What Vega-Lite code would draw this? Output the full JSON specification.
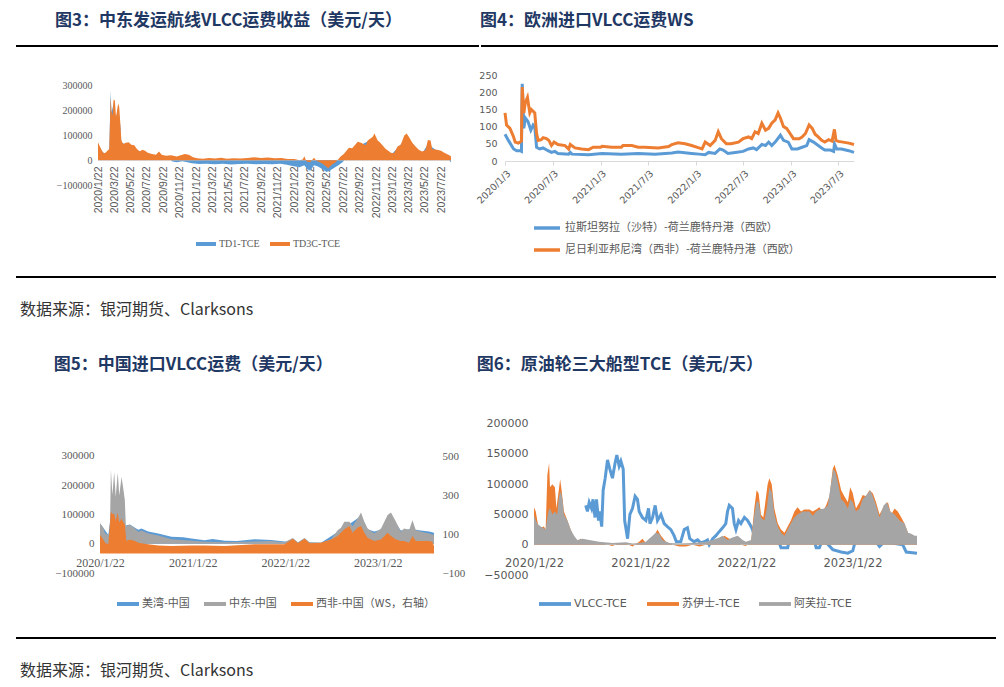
{
"$schema": "https://vega.github.io/schema/vega-lite/v6.json",
"background": "white",
"padding": {"left": 15, "top": 12, "right": 5, "bottom": 5},
"spacing": 0,
"resolve": {"scale": {"color": "independent"}, "legend": {"color": "independent"}},
"config": {
  "view": {"stroke": null},
  "axis": {"grid": false, "labelColor": "#595959", "domain": false, "ticks": false, "title": null, "labelFlush": false, "labelOverlap": false, "tickCount": 60},
  "legend": {"labelColor": "#595959", "title": null, "labelLimit": 400},
  "title": {"color": "#1f3864", "font": "Noto Sans CJK SC", "fontWeight": "bold", "fontSize": 17, "anchor": "start"}
},
"datasets": {
"td1": [{"d":"2020-01-22","v":65000},{"d":"2020-02-05","v":35000},{"d":"2020-02-19","v":25000},{"d":"2020-03-04","v":40000},{"d":"2020-03-09","v":280000},{"d":"2020-03-12","v":190000},{"d":"2020-03-20","v":230000},{"d":"2020-03-29","v":160000},{"d":"2020-04-06","v":215000},{"d":"2020-04-14","v":140000},{"d":"2020-04-18","v":70000},{"d":"2020-05-15","v":60000},{"d":"2020-06-15","v":40000},{"d":"2020-07-15","v":30000},{"d":"2020-08-15","v":20000},{"d":"2020-09-15","v":15000},{"d":"2020-10-10","v":5000},{"d":"2020-10-25","v":-5000},{"d":"2020-11-10","v":-8000},{"d":"2020-12-01","v":-4000},{"d":"2020-12-20","v":-8000},{"d":"2021-01-05","v":-12000},{"d":"2021-02-01","v":-15000},{"d":"2021-03-01","v":-14000},{"d":"2021-04-01","v":-16000},{"d":"2021-05-01","v":-14000},{"d":"2021-06-01","v":-17000},{"d":"2021-07-01","v":-15000},{"d":"2021-08-01","v":-14000},{"d":"2021-09-01","v":-16000},{"d":"2021-10-01","v":-15000},{"d":"2021-11-01","v":-16000},{"d":"2021-12-01","v":-14000},{"d":"2021-12-25","v":-18000},{"d":"2022-01-10","v":-22000},{"d":"2022-01-25","v":-25000},{"d":"2022-02-10","v":-28000},{"d":"2022-02-28","v":-20000},{"d":"2022-03-10","v":-35000},{"d":"2022-03-22","v":-42000},{"d":"2022-04-05","v":-20000},{"d":"2022-04-20","v":-25000},{"d":"2022-05-05","v":-35000},{"d":"2022-05-22","v":-48000},{"d":"2022-06-05","v":-40000},{"d":"2022-06-20","v":-30000},{"d":"2022-07-05","v":-20000},{"d":"2022-07-20","v":-8000},{"d":"2022-08-01","v":5000},{"d":"2022-09-15","v":55000},{"d":"2022-11-16","v":90000},{"d":"2023-01-16","v":20000},{"d":"2023-03-16","v":90000},{"d":"2023-05-12","v":25000},{"d":"2023-06-03","v":65000},{"d":"2023-07-22","v":25000},{"d":"2023-08-15","v":5000},{"d":"2023-08-28","v":-8000}],
"td3c": [{"d":"2020-01-22","v":72000},{"d":"2020-01-29","v":55000},{"d":"2020-02-05","v":40000},{"d":"2020-02-12","v":28000},{"d":"2020-02-19","v":30000},{"d":"2020-02-26","v":38000},{"d":"2020-03-04","v":45000},{"d":"2020-03-09","v":255000},{"d":"2020-03-12","v":200000},{"d":"2020-03-16","v":180000},{"d":"2020-03-20","v":245000},{"d":"2020-03-25","v":240000},{"d":"2020-03-29","v":175000},{"d":"2020-04-02","v":200000},{"d":"2020-04-06","v":230000},{"d":"2020-04-10","v":215000},{"d":"2020-04-14","v":150000},{"d":"2020-04-18","v":80000},{"d":"2020-04-25","v":65000},{"d":"2020-05-05","v":70000},{"d":"2020-05-15","v":72000},{"d":"2020-05-25","v":62000},{"d":"2020-06-05","v":60000},{"d":"2020-06-15","v":45000},{"d":"2020-06-25","v":35000},{"d":"2020-07-05","v":42000},{"d":"2020-07-15","v":38000},{"d":"2020-07-25","v":30000},{"d":"2020-08-10","v":25000},{"d":"2020-08-25","v":22000},{"d":"2020-09-05","v":35000},{"d":"2020-09-15","v":22000},{"d":"2020-10-01","v":18000},{"d":"2020-10-20","v":20000},{"d":"2020-11-10","v":15000},{"d":"2020-11-25","v":20000},{"d":"2020-12-10","v":25000},{"d":"2020-12-25","v":22000},{"d":"2021-01-10","v":12000},{"d":"2021-01-25","v":8000},{"d":"2021-02-15","v":6000},{"d":"2021-03-10","v":9000},{"d":"2021-04-01","v":7000},{"d":"2021-04-25","v":10000},{"d":"2021-05-15","v":6000},{"d":"2021-06-10","v":8000},{"d":"2021-07-05","v":7000},{"d":"2021-08-01","v":9000},{"d":"2021-08-25","v":12000},{"d":"2021-09-20","v":9000},{"d":"2021-10-15","v":11000},{"d":"2021-11-10","v":8000},{"d":"2021-12-05","v":9000},{"d":"2021-12-28","v":5000},{"d":"2022-01-22","v":5000},{"d":"2022-02-10","v":0},{"d":"2022-02-22","v":3000},{"d":"2022-02-28","v":16000},{"d":"2022-03-08","v":-5000},{"d":"2022-03-22","v":-8000},{"d":"2022-04-05","v":10000},{"d":"2022-04-15","v":-3000},{"d":"2022-05-01","v":-10000},{"d":"2022-05-15","v":-20000},{"d":"2022-05-28","v":-32000},{"d":"2022-06-10","v":-18000},{"d":"2022-06-25","v":-8000},{"d":"2022-07-13","v":15000},{"d":"2022-07-25","v":25000},{"d":"2022-08-13","v":50000},{"d":"2022-08-25","v":48000},{"d":"2022-09-15","v":75000},{"d":"2022-09-27","v":70000},{"d":"2022-10-15","v":60000},{"d":"2022-10-22","v":80000},{"d":"2022-11-10","v":95000},{"d":"2022-11-16","v":108000},{"d":"2022-11-28","v":80000},{"d":"2022-12-04","v":75000},{"d":"2022-12-16","v":60000},{"d":"2022-12-28","v":45000},{"d":"2023-01-04","v":40000},{"d":"2023-01-16","v":30000},{"d":"2023-01-28","v":28000},{"d":"2023-02-10","v":55000},{"d":"2023-02-22","v":62000},{"d":"2023-03-07","v":100000},{"d":"2023-03-16","v":108000},{"d":"2023-03-24","v":95000},{"d":"2023-04-06","v":70000},{"d":"2023-04-18","v":55000},{"d":"2023-04-30","v":42000},{"d":"2023-05-12","v":35000},{"d":"2023-05-25","v":40000},{"d":"2023-06-03","v":82000},{"d":"2023-06-13","v":80000},{"d":"2023-06-19","v":45000},{"d":"2023-07-07","v":42000},{"d":"2023-07-22","v":38000},{"d":"2023-08-03","v":30000},{"d":"2023-08-22","v":20000},{"d":"2023-08-28","v":15000}],
"rt": [{"d":"2020-01-03","v":78},{"d":"2020-01-16","v":60},{"d":"2020-02-05","v":35},{"d":"2020-02-17","v":30},{"d":"2020-03-01","v":30},{"d":"2020-03-06","v":28},{"d":"2020-03-09","v":225},{"d":"2020-03-15","v":95},{"d":"2020-03-21","v":125},{"d":"2020-03-31","v":115},{"d":"2020-04-11","v":90},{"d":"2020-04-20","v":105},{"d":"2020-04-26","v":100},{"d":"2020-05-03","v":40},{"d":"2020-05-15","v":35},{"d":"2020-05-28","v":38},{"d":"2020-06-16","v":30},{"d":"2020-06-29","v":25},{"d":"2020-07-12","v":28},{"d":"2020-07-24","v":22},{"d":"2020-09-03","v":20},{"d":"2020-09-09","v":25},{"d":"2020-09-15","v":20},{"d":"2020-11-18","v":18},{"d":"2021-01-09","v":22},{"d":"2021-03-24","v":20},{"d":"2021-05-27","v":22},{"d":"2021-07-31","v":20},{"d":"2021-10-03","v":23},{"d":"2021-10-27","v":26},{"d":"2021-12-18","v":22},{"d":"2022-01-15","v":20},{"d":"2022-02-08","v":18},{"d":"2022-02-21","v":25},{"d":"2022-03-18","v":22},{"d":"2022-04-05","v":35},{"d":"2022-04-18","v":32},{"d":"2022-05-06","v":22},{"d":"2022-06-03","v":25},{"d":"2022-07-03","v":28},{"d":"2022-07-24","v":35},{"d":"2022-08-11","v":38},{"d":"2022-08-24","v":33},{"d":"2022-09-13","v":48},{"d":"2022-09-27","v":45},{"d":"2022-10-09","v":55},{"d":"2022-10-21","v":45},{"d":"2022-11-03","v":55},{"d":"2022-11-23","v":75},{"d":"2022-12-05","v":60},{"d":"2022-12-23","v":55},{"d":"2023-01-06","v":35},{"d":"2023-01-27","v":35},{"d":"2023-02-14","v":40},{"d":"2023-03-04","v":45},{"d":"2023-03-13","v":62},{"d":"2023-03-30","v":55},{"d":"2023-04-17","v":45},{"d":"2023-04-30","v":38},{"d":"2023-05-12","v":32},{"d":"2023-06-03","v":32},{"d":"2023-06-15","v":28},{"d":"2023-06-18","v":50},{"d":"2023-06-27","v":35},{"d":"2023-07-15","v":35},{"d":"2023-08-12","v":30},{"d":"2023-09-01","v":25}],
"bn": [{"d":"2020-01-03","v":140},{"d":"2020-01-09","v":105},{"d":"2020-01-22","v":95},{"d":"2020-02-05","v":70},{"d":"2020-02-11","v":55},{"d":"2020-02-23","v":52},{"d":"2020-03-01","v":55},{"d":"2020-03-06","v":58},{"d":"2020-03-09","v":215},{"d":"2020-03-15","v":140},{"d":"2020-03-21","v":170},{"d":"2020-03-29","v":185},{"d":"2020-04-07","v":140},{"d":"2020-04-13","v":150},{"d":"2020-04-20","v":145},{"d":"2020-04-26","v":140},{"d":"2020-05-03","v":80},{"d":"2020-05-09","v":60},{"d":"2020-05-21","v":62},{"d":"2020-05-28","v":68},{"d":"2020-06-10","v":65},{"d":"2020-06-19","v":60},{"d":"2020-06-29","v":45},{"d":"2020-07-09","v":55},{"d":"2020-07-24","v":48},{"d":"2020-08-20","v":45},{"d":"2020-09-03","v":35},{"d":"2020-09-09","v":48},{"d":"2020-09-27","v":38},{"d":"2020-10-23","v":35},{"d":"2020-11-18","v":33},{"d":"2020-12-06","v":40},{"d":"2021-01-03","v":40},{"d":"2021-01-09","v":43},{"d":"2021-02-15","v":40},{"d":"2021-03-24","v":40},{"d":"2021-03-30","v":45},{"d":"2021-05-03","v":45},{"d":"2021-05-27","v":40},{"d":"2021-06-21","v":40},{"d":"2021-08-12","v":38},{"d":"2021-09-21","v":42},{"d":"2021-10-03","v":48},{"d":"2021-10-27","v":53},{"d":"2021-11-23","v":50},{"d":"2021-12-18","v":45},{"d":"2022-01-15","v":38},{"d":"2022-01-27","v":35},{"d":"2022-02-08","v":55},{"d":"2022-02-27","v":45},{"d":"2022-03-18","v":60},{"d":"2022-03-30","v":85},{"d":"2022-04-11","v":65},{"d":"2022-04-30","v":50},{"d":"2022-05-18","v":50},{"d":"2022-06-15","v":55},{"d":"2022-07-03","v":65},{"d":"2022-07-24","v":70},{"d":"2022-08-05","v":65},{"d":"2022-08-18","v":85},{"d":"2022-08-30","v":80},{"d":"2022-09-13","v":110},{"d":"2022-09-27","v":90},{"d":"2022-10-09","v":95},{"d":"2022-10-21","v":110},{"d":"2022-11-03","v":120},{"d":"2022-11-14","v":140},{"d":"2022-11-23","v":125},{"d":"2022-12-05","v":100},{"d":"2022-12-17","v":95},{"d":"2022-12-30","v":80},{"d":"2023-01-12","v":65},{"d":"2023-02-03","v":65},{"d":"2023-02-14","v":70},{"d":"2023-02-27","v":80},{"d":"2023-03-13","v":105},{"d":"2023-03-25","v":95},{"d":"2023-04-05","v":78},{"d":"2023-04-17","v":70},{"d":"2023-04-30","v":60},{"d":"2023-05-12","v":55},{"d":"2023-05-27","v":62},{"d":"2023-06-09","v":58},{"d":"2023-06-18","v":92},{"d":"2023-06-24","v":60},{"d":"2023-07-03","v":57},{"d":"2023-07-21","v":55},{"d":"2023-08-12","v":52},{"d":"2023-09-01","v":48}],
"mw": [{"d":"2020-01-22","v":70000},{"d":"2020-02-04","v":55000},{"d":"2020-02-24","v":30000},{"d":"2020-03-05","v":100000},{"d":"2020-04-29","v":60000},{"d":"2020-05-03","v":62000},{"d":"2020-05-19","v":66000},{"d":"2020-06-08","v":55000},{"d":"2020-06-21","v":48000},{"d":"2020-07-04","v":52000},{"d":"2020-07-30","v":42000},{"d":"2020-09-08","v":35000},{"d":"2020-10-30","v":24000},{"d":"2020-12-15","v":22000},{"d":"2021-01-17","v":18000},{"d":"2021-03-10","v":12000},{"d":"2021-04-10","v":16000},{"d":"2021-05-28","v":10000},{"d":"2021-07-15","v":9000},{"d":"2021-09-23","v":15000},{"d":"2021-11-28","v":13000},{"d":"2022-01-19","v":8000},{"d":"2022-03-13","v":5000},{"d":"2022-06-12","v":3000},{"d":"2022-08-17","v":40000},{"d":"2022-11-17","v":95000},{"d":"2022-12-13","v":50000},{"d":"2023-01-08","v":42000},{"d":"2023-02-04","v":48000},{"d":"2023-03-15","v":95000},{"d":"2023-04-23","v":45000},{"d":"2023-05-26","v":50000},{"d":"2023-06-21","v":48000},{"d":"2023-07-11","v":45000},{"d":"2023-08-13","v":42000},{"d":"2023-09-01","v":38000}],
"zd": [{"d":"2020-01-22","v":69000},{"d":"2020-02-04","v":54500},{"d":"2020-02-11","v":35000},{"d":"2020-02-24","v":30000},{"d":"2020-03-01","v":38500},{"d":"2020-03-05","v":255000},{"d":"2020-03-11","v":167000},{"d":"2020-03-18","v":245000},{"d":"2020-03-24","v":160000},{"d":"2020-04-01","v":243000},{"d":"2020-04-07","v":165000},{"d":"2020-04-16","v":228000},{"d":"2020-04-23","v":188000},{"d":"2020-04-29","v":150000},{"d":"2020-05-03","v":60000},{"d":"2020-05-19","v":65000},{"d":"2020-06-08","v":52000},{"d":"2020-06-21","v":40000},{"d":"2020-07-04","v":45000},{"d":"2020-07-30","v":35000},{"d":"2020-09-08","v":28000},{"d":"2020-10-30","v":15000},{"d":"2021-01-17","v":10000},{"d":"2021-03-10","v":7000},{"d":"2021-05-28","v":5000},{"d":"2021-09-23","v":8000},{"d":"2021-11-28","v":9000},{"d":"2022-01-19","v":5000},{"d":"2022-02-21","v":20000},{"d":"2022-03-13","v":5000},{"d":"2022-04-08","v":20000},{"d":"2022-04-28","v":5000},{"d":"2022-06-12","v":3000},{"d":"2022-07-22","v":15000},{"d":"2022-08-17","v":46500},{"d":"2022-08-30","v":55000},{"d":"2022-09-12","v":75000},{"d":"2022-10-02","v":75000},{"d":"2022-10-15","v":60000},{"d":"2022-11-04","v":86000},{"d":"2022-11-17","v":107000},{"d":"2022-11-30","v":75000},{"d":"2022-12-13","v":52000},{"d":"2023-01-08","v":35000},{"d":"2023-02-04","v":52000},{"d":"2023-03-02","v":98000},{"d":"2023-03-15","v":107000},{"d":"2023-04-04","v":75000},{"d":"2023-04-23","v":41000},{"d":"2023-05-06","v":52000},{"d":"2023-05-26","v":47000},{"d":"2023-06-08","v":80000},{"d":"2023-06-21","v":47000},{"d":"2023-07-11","v":41000},{"d":"2023-08-13","v":35000},{"d":"2023-09-01","v":30000}],
"xf": [{"d":"2020-01-22","v":98},{"d":"2020-02-04","v":72},{"d":"2020-02-11","v":55},{"d":"2020-02-24","v":47},{"d":"2020-03-05","v":214},{"d":"2020-03-11","v":202},{"d":"2020-03-18","v":202},{"d":"2020-03-24","v":167},{"d":"2020-04-01","v":210},{"d":"2020-04-07","v":159},{"d":"2020-04-16","v":179},{"d":"2020-04-23","v":159},{"d":"2020-04-29","v":150},{"d":"2020-05-05","v":64},{"d":"2020-05-19","v":72},{"d":"2020-06-08","v":64},{"d":"2020-06-21","v":55},{"d":"2020-07-04","v":52},{"d":"2020-07-30","v":47},{"d":"2020-09-08","v":41},{"d":"2020-10-30","v":38},{"d":"2021-01-17","v":41},{"d":"2021-03-10","v":41},{"d":"2021-05-28","v":38},{"d":"2021-09-23","v":47},{"d":"2022-01-19","v":47},{"d":"2022-02-21","v":76},{"d":"2022-03-13","v":52},{"d":"2022-04-08","v":76},{"d":"2022-04-28","v":52},{"d":"2022-06-12","v":55},{"d":"2022-07-22","v":72},{"d":"2022-08-17","v":90},{"d":"2022-09-12","v":124},{"d":"2022-10-02","v":141},{"d":"2022-10-15","v":107},{"d":"2022-11-04","v":133},{"d":"2022-11-17","v":141},{"d":"2022-11-30","v":107},{"d":"2022-12-13","v":81},{"d":"2023-01-08","v":64},{"d":"2023-02-04","v":72},{"d":"2023-03-02","v":107},{"d":"2023-03-15","v":90},{"d":"2023-04-04","v":72},{"d":"2023-04-23","v":64},{"d":"2023-05-06","v":64},{"d":"2023-05-26","v":55},{"d":"2023-06-08","v":90},{"d":"2023-06-21","v":64},{"d":"2023-07-11","v":64},{"d":"2023-08-13","v":64},{"d":"2023-08-25","v":60},{"d":"2023-09-01","v":38}],
"vl": [{"d":"2020-07-18","v":65000},{"d":"2020-07-24","v":55000},{"d":"2020-07-30","v":70000},{"d":"2020-08-07","v":60000},{"d":"2020-08-12","v":75000},{"d":"2020-08-19","v":45000},{"d":"2020-08-24","v":75000},{"d":"2020-08-31","v":40000},{"d":"2020-09-04","v":55000},{"d":"2020-09-11","v":30000},{"d":"2020-09-16","v":90000},{"d":"2020-09-23","v":110000},{"d":"2020-10-01","v":140000},{"d":"2020-10-09","v":125000},{"d":"2020-10-18","v":110000},{"d":"2020-10-27","v":135000},{"d":"2020-11-02","v":148000},{"d":"2020-11-10","v":130000},{"d":"2020-11-16","v":138000},{"d":"2020-11-24","v":125000},{"d":"2020-11-29","v":40000},{"d":"2020-12-09","v":10000},{"d":"2020-12-17","v":50000},{"d":"2020-12-26","v":60000},{"d":"2021-01-04","v":80000},{"d":"2021-01-12","v":75000},{"d":"2021-01-18","v":55000},{"d":"2021-01-29","v":45000},{"d":"2021-02-10","v":40000},{"d":"2021-02-19","v":60000},{"d":"2021-02-24","v":35000},{"d":"2021-03-05","v":45000},{"d":"2021-03-14","v":65000},{"d":"2021-03-22","v":40000},{"d":"2021-04-03","v":50000},{"d":"2021-04-14","v":35000},{"d":"2021-04-25","v":30000},{"d":"2021-05-07","v":25000},{"d":"2021-05-18","v":15000},{"d":"2021-05-26","v":5000},{"d":"2021-06-10","v":5000},{"d":"2021-06-22","v":25000},{"d":"2021-07-03","v":28000},{"d":"2021-07-11","v":10000},{"d":"2021-07-26","v":5000},{"d":"2021-08-07","v":8000},{"d":"2021-08-18","v":3000},{"d":"2021-08-30","v":5000},{"d":"2021-09-10","v":8000},{"d":"2021-09-16","v":0},{"d":"2021-09-28","v":10000},{"d":"2021-10-09","v":15000},{"d":"2021-10-21","v":22000},{"d":"2021-11-01","v":28000},{"d":"2021-11-12","v":35000},{"d":"2021-11-18","v":55000},{"d":"2021-11-24","v":65000},{"d":"2021-12-05","v":60000},{"d":"2021-12-11","v":35000},{"d":"2021-12-17","v":25000},{"d":"2021-12-26","v":40000},{"d":"2022-01-03","v":35000},{"d":"2022-01-15","v":45000},{"d":"2022-01-26","v":40000},{"d":"2022-02-07","v":30000},{"d":"2022-02-12","v":25000},{"d":"2022-02-20","v":10000},{"d":"2022-05-10","v":10000},{"d":"2022-05-21","v":-5000},{"d":"2022-06-13","v":-5000},{"d":"2022-06-24","v":20000},{"d":"2022-09-07","v":20000},{"d":"2022-09-19","v":-5000},{"d":"2022-09-30","v":-5000},{"d":"2022-10-12","v":10000},{"d":"2022-11-15","v":-8000},{"d":"2022-12-14","v":-12000},{"d":"2023-01-06","v":-14000},{"d":"2023-01-23","v":-10000},{"d":"2023-02-03","v":10000},{"d":"2023-04-13","v":5000},{"d":"2023-04-25","v":-3000},{"d":"2023-05-12","v":5000},{"d":"2023-07-14","v":0},{"d":"2023-07-26","v":-12000},{"d":"2023-09-01","v":-14000}],
"sz": [{"d":"2020-01-22","v":62000},{"d":"2020-01-28","v":55000},{"d":"2020-02-06","v":30000},{"d":"2020-02-14","v":28000},{"d":"2020-02-25","v":30000},{"d":"2020-03-02","v":25000},{"d":"2020-03-08","v":115000},{"d":"2020-03-14","v":135000},{"d":"2020-03-17","v":95000},{"d":"2020-03-25","v":100000},{"d":"2020-04-03","v":95000},{"d":"2020-04-08","v":60000},{"d":"2020-04-15","v":85000},{"d":"2020-04-21","v":108000},{"d":"2020-04-26","v":90000},{"d":"2020-05-04","v":55000},{"d":"2020-05-16","v":40000},{"d":"2020-05-27","v":25000},{"d":"2020-06-08","v":10000},{"d":"2020-06-19","v":5000},{"d":"2020-07-01","v":10000},{"d":"2020-07-18","v":8000},{"d":"2020-08-10","v":5000},{"d":"2020-09-02","v":3000},{"d":"2020-09-25","v":1000},{"d":"2020-10-18","v":-2000},{"d":"2020-11-10","v":3000},{"d":"2020-12-03","v":2000},{"d":"2020-12-26","v":-3000},{"d":"2021-01-18","v":5000},{"d":"2021-01-29","v":10000},{"d":"2021-02-10","v":3000},{"d":"2021-03-05","v":10000},{"d":"2021-03-22","v":25000},{"d":"2021-04-03","v":15000},{"d":"2021-04-20","v":5000},{"d":"2021-05-13","v":0},{"d":"2021-06-05","v":-3000},{"d":"2021-06-28","v":-3000},{"d":"2021-07-21","v":0},{"d":"2021-08-13","v":-3000},{"d":"2021-09-05","v":0},{"d":"2021-09-28","v":5000},{"d":"2021-10-21","v":8000},{"d":"2021-11-07","v":15000},{"d":"2021-11-24","v":10000},{"d":"2021-12-17","v":10000},{"d":"2022-01-03","v":0},{"d":"2022-01-20","v":-2000},{"d":"2022-02-07","v":5000},{"d":"2022-02-18","v":60000},{"d":"2022-02-26","v":90000},{"d":"2022-03-05","v":85000},{"d":"2022-03-13","v":50000},{"d":"2022-03-21","v":45000},{"d":"2022-03-28","v":70000},{"d":"2022-04-05","v":100000},{"d":"2022-04-11","v":110000},{"d":"2022-04-19","v":100000},{"d":"2022-04-28","v":60000},{"d":"2022-05-10","v":35000},{"d":"2022-05-21","v":25000},{"d":"2022-06-02","v":20000},{"d":"2022-06-13","v":30000},{"d":"2022-06-24","v":40000},{"d":"2022-07-06","v":55000},{"d":"2022-07-17","v":62000},{"d":"2022-07-29","v":55000},{"d":"2022-08-09","v":58000},{"d":"2022-08-27","v":58000},{"d":"2022-09-07","v":55000},{"d":"2022-09-19","v":58000},{"d":"2022-09-30","v":62000},{"d":"2022-10-12","v":55000},{"d":"2022-10-23","v":65000},{"d":"2022-11-04","v":80000},{"d":"2022-11-15","v":125000},{"d":"2022-11-21","v":132000},{"d":"2022-12-02","v":115000},{"d":"2022-12-14","v":90000},{"d":"2022-12-25","v":80000},{"d":"2023-01-06","v":70000},{"d":"2023-01-14","v":95000},{"d":"2023-01-23","v":85000},{"d":"2023-02-03","v":60000},{"d":"2023-02-15","v":70000},{"d":"2023-02-26","v":82000},{"d":"2023-03-10","v":80000},{"d":"2023-03-21","v":90000},{"d":"2023-04-02","v":85000},{"d":"2023-04-13","v":70000},{"d":"2023-04-25","v":50000},{"d":"2023-05-12","v":65000},{"d":"2023-05-24","v":70000},{"d":"2023-06-04","v":50000},{"d":"2023-06-16","v":60000},{"d":"2023-06-27","v":55000},{"d":"2023-07-09","v":45000},{"d":"2023-07-20","v":35000},{"d":"2023-08-01","v":20000},{"d":"2023-08-18","v":15000},{"d":"2023-09-01","v":12000}],
"af": [{"d":"2020-01-22","v":48000},{"d":"2020-02-02","v":35000},{"d":"2020-02-14","v":30000},{"d":"2020-03-02","v":25000},{"d":"2020-03-08","v":45000},{"d":"2020-03-14","v":60000},{"d":"2020-03-19","v":58000},{"d":"2020-03-25","v":50000},{"d":"2020-04-03","v":55000},{"d":"2020-04-11","v":50000},{"d":"2020-04-17","v":80000},{"d":"2020-04-23","v":88000},{"d":"2020-04-29","v":75000},{"d":"2020-05-04","v":50000},{"d":"2020-05-16","v":40000},{"d":"2020-05-27","v":25000},{"d":"2020-06-08","v":15000},{"d":"2020-06-19","v":8000},{"d":"2020-07-07","v":10000},{"d":"2020-07-30","v":8000},{"d":"2020-09-02","v":5000},{"d":"2020-10-18","v":3000},{"d":"2020-12-03","v":4000},{"d":"2020-12-26","v":2000},{"d":"2021-01-18","v":3000},{"d":"2021-02-10","v":5000},{"d":"2021-02-21","v":10000},{"d":"2021-03-05","v":15000},{"d":"2021-03-16","v":20000},{"d":"2021-03-28","v":18000},{"d":"2021-04-08","v":8000},{"d":"2021-05-01","v":3000},{"d":"2021-06-05","v":2000},{"d":"2021-07-21","v":3000},{"d":"2021-09-05","v":5000},{"d":"2021-09-28","v":8000},{"d":"2021-10-21","v":12000},{"d":"2021-11-01","v":15000},{"d":"2021-11-18","v":8000},{"d":"2021-12-05","v":12000},{"d":"2021-12-23","v":15000},{"d":"2022-01-09","v":8000},{"d":"2022-01-20","v":5000},{"d":"2022-02-07","v":8000},{"d":"2022-02-18","v":50000},{"d":"2022-02-26","v":72000},{"d":"2022-03-05","v":70000},{"d":"2022-03-13","v":45000},{"d":"2022-03-25","v":40000},{"d":"2022-04-02","v":60000},{"d":"2022-04-11","v":95000},{"d":"2022-04-20","v":85000},{"d":"2022-04-28","v":50000},{"d":"2022-05-10","v":30000},{"d":"2022-05-21","v":20000},{"d":"2022-06-02","v":15000},{"d":"2022-06-13","v":25000},{"d":"2022-06-24","v":35000},{"d":"2022-07-06","v":45000},{"d":"2022-07-17","v":50000},{"d":"2022-08-04","v":55000},{"d":"2022-08-27","v":55000},{"d":"2022-09-07","v":48000},{"d":"2022-09-19","v":55000},{"d":"2022-09-30","v":58000},{"d":"2022-10-17","v":60000},{"d":"2022-10-29","v":65000},{"d":"2022-11-09","v":100000},{"d":"2022-11-17","v":125000},{"d":"2022-11-24","v":120000},{"d":"2022-12-02","v":105000},{"d":"2022-12-14","v":75000},{"d":"2022-12-25","v":70000},{"d":"2023-01-06","v":60000},{"d":"2023-01-14","v":75000},{"d":"2023-01-23","v":70000},{"d":"2023-02-03","v":55000},{"d":"2023-02-15","v":60000},{"d":"2023-02-26","v":75000},{"d":"2023-03-16","v":85000},{"d":"2023-03-24","v":90000},{"d":"2023-04-02","v":80000},{"d":"2023-04-13","v":65000},{"d":"2023-04-25","v":45000},{"d":"2023-05-09","v":65000},{"d":"2023-05-20","v":70000},{"d":"2023-06-01","v":55000},{"d":"2023-06-16","v":50000},{"d":"2023-07-03","v":40000},{"d":"2023-07-20","v":35000},{"d":"2023-08-01","v":20000},{"d":"2023-08-12","v":18000},{"d":"2023-08-24","v":15000},{"d":"2023-09-01","v":15000}]
},
"vconcat": [
  {"hconcat": [
    {"width": 463, "height": 24, "data": {"values": [{"p": 1}]}, "mark": {"type": "rule", "color": "black", "strokeWidth": 2},
     "encoding": {"y": {"field": "p", "type": "quantitative", "scale": {"domain": [0, 1]}, "axis": null}},
     "title": {"text": "图3：中东发运航线VLCC运费收益（美元/天）", "dx": 40, "offset": 15}},
    {"width": 517, "height": 24, "data": {"values": [{"p": 1}]}, "mark": {"type": "rule", "color": "black", "strokeWidth": 2},
     "encoding": {"y": {"field": "p", "type": "quantitative", "scale": {"domain": [0, 1]}, "axis": null}},
     "title": {"text": "图4：欧洲进口VLCC运费WS", "offset": 15}}
  ], "spacing": 0},
  {"hconcat": [
    {"width": 17, "height": 1, "data": {"values": []}, "mark": "point", "encoding": {}},
    {"width": 353, "height": 114,
     "layer": [
      {"data": {"name": "td1"}, "mark": {"type": "area"},
       "encoding": {
        "x": {"field": "d", "type": "temporal",
              "scale": {"type": "utc", "domain": [{"year": 2020, "month": 1, "date": 22, "utc": true}, {"year": 2023, "month": 8, "date": 28, "utc": true}]},
              "axis": {"values": [
                {"year": 2020, "month": 1, "date": 22, "utc": true}, {"year": 2020, "month": 3, "date": 22, "utc": true}, {"year": 2020, "month": 5, "date": 22, "utc": true}, {"year": 2020, "month": 7, "date": 22, "utc": true}, {"year": 2020, "month": 9, "date": 22, "utc": true}, {"year": 2020, "month": 11, "date": 22, "utc": true},
                {"year": 2021, "month": 1, "date": 22, "utc": true}, {"year": 2021, "month": 3, "date": 22, "utc": true}, {"year": 2021, "month": 5, "date": 22, "utc": true}, {"year": 2021, "month": 7, "date": 22, "utc": true}, {"year": 2021, "month": 9, "date": 22, "utc": true}, {"year": 2021, "month": 11, "date": 22, "utc": true},
                {"year": 2022, "month": 1, "date": 22, "utc": true}, {"year": 2022, "month": 3, "date": 22, "utc": true}, {"year": 2022, "month": 5, "date": 22, "utc": true}, {"year": 2022, "month": 7, "date": 22, "utc": true}, {"year": 2022, "month": 9, "date": 22, "utc": true}, {"year": 2022, "month": 11, "date": 22, "utc": true},
                {"year": 2023, "month": 1, "date": 22, "utc": true}, {"year": 2023, "month": 3, "date": 22, "utc": true}, {"year": 2023, "month": 5, "date": 22, "utc": true}, {"year": 2023, "month": 7, "date": 22, "utc": true}],
                "tickCount": 60, "format": "%Y/%-m/%-d", "labelAngle": -90, "labelFont": "Liberation Sans", "labelFontSize": 10.5, "offset": -25, "labelPadding": 6, "labelOverlap": false}},
        "y": {"field": "v", "type": "quantitative", "scale": {"domain": [-100000, 360000], "nice": false},
              "axis": {"values": [-100000, 0, 100000, 200000, 300000], "tickCount": 60, "format": "d", "labelFont": "Liberation Sans Narrow", "labelFontSize": 10, "labelPadding": 6, "labelOverlap": false}},
        "color": {"datum": "TD1-TCE", "type": "nominal", "scale": {"domain": ["TD1-TCE", "TD3C-TCE"], "range": ["#5b9bd5", "#ed7d31"]},
                  "legend": {"orient": "none", "legendX": 98, "legendY": 163, "direction": "horizontal", "symbolType": "M-1,-0.2H1V0.2H-1Z", "symbolSize": 400, "symbolStrokeWidth": 0, "labelFont": "Liberation Sans Narrow", "labelFontSize": 10, "columnPadding": 10, "labelOffset": 3}}
       }},
      {"data": {"name": "td3c"}, "mark": {"type": "area"},
       "encoding": {"x": {"field": "d", "type": "temporal"}, "y": {"field": "v", "type": "quantitative"}, "color": {"datum": "TD3C-TCE", "type": "nominal"}}}
     ]},
    {"width": 349, "height": 90,
     "layer": [
      {"data": {"name": "rt"}, "mark": {"type": "line", "strokeWidth": 3},
       "encoding": {
        "x": {"field": "d", "type": "temporal",
              "scale": {"type": "utc", "domain": [{"year": 2020, "month": 1, "date": 3, "utc": true}, {"year": 2023, "month": 9, "date": 1, "utc": true}]},
              "axis": {"values": [
                {"year": 2020, "month": 1, "date": 3, "utc": true}, {"year": 2020, "month": 7, "date": 3, "utc": true}, {"year": 2021, "month": 1, "date": 3, "utc": true}, {"year": 2021, "month": 7, "date": 3, "utc": true},
                {"year": 2022, "month": 1, "date": 3, "utc": true}, {"year": 2022, "month": 7, "date": 3, "utc": true}, {"year": 2023, "month": 1, "date": 3, "utc": true}, {"year": 2023, "month": 7, "date": 3, "utc": true}],
                "tickCount": 60, "format": "%Y/%-m/%-d", "labelAngle": -45, "labelFont": "DejaVu Sans", "labelFontSize": 9.5, "domain": true, "domainColor": "#d9d9d9", "ticks": true, "tickColor": "#d9d9d9", "tickSize": 4, "labelPadding": 3, "labelOverlap": false}},
        "y": {"field": "v", "type": "quantitative", "scale": {"domain": [0, 262], "nice": false},
              "axis": {"values": [0, 50, 100, 150, 200, 250], "tickCount": 60, "format": "d", "labelFont": "DejaVu Sans", "labelFontSize": 9.5, "labelPadding": 8, "labelOverlap": false}},
        "color": {"datum": "拉斯坦努拉（沙特）-荷兰鹿特丹港（西欧）", "type": "nominal",
                  "scale": {"domain": ["拉斯坦努拉（沙特）-荷兰鹿特丹港（西欧）", "尼日利亚邦尼湾（西非）-荷兰鹿特丹港（西欧）"], "range": ["#5b9bd5", "#ed7d31"]},
                  "legend": {"orient": "none", "legendX": 27, "legendY": 142, "direction": "vertical", "symbolType": "stroke", "symbolSize": 676, "symbolStrokeWidth": 3.5, "labelFont": "Noto Sans CJK SC", "labelFontSize": 11, "rowPadding": 0, "labelOffset": 3}}
       }},
      {"data": {"name": "bn"}, "mark": {"type": "line", "strokeWidth": 3},
       "encoding": {"x": {"field": "d", "type": "temporal"}, "y": {"field": "v", "type": "quantitative"}, "color": {"datum": "尼日利亚邦尼湾（西非）-荷兰鹿特丹港（西欧）", "type": "nominal"}}}
     ]}
  ], "spacing": 23, "resolve": {"scale": {"color": "independent"}, "legend": {"color": "independent"}}},
  {"width": 980, "height": 20, "data": {"values": [{"p": 0}]}, "mark": {"type": "rule", "color": "black", "strokeWidth": 2},
   "encoding": {"y": {"field": "p", "type": "quantitative", "scale": {"domain": [0, 1]}, "axis": null}},
   "title": {"text": "数据来源：银河期货、Clarksons", "orient": "bottom", "dx": 5, "offset": 24, "color": "#333333", "fontWeight": "normal", "fontSize": 16}},
  {"width": 1, "height": 38, "data": {"values": []}, "mark": "point", "encoding": {}},
  {"hconcat": [
    {"width": 26, "height": 1, "data": {"values": []}, "mark": "point", "encoding": {}},
    {"width": 334, "height": 156,
     "title": {"text": "图5：中国进口VLCC运费（美元/天）", "offset": 43, "dx": -1},
     "layer": [
      {"layer": [
        {"data": {"name": "mw"}, "mark": {"type": "area"},
         "encoding": {
          "x": {"field": "d", "type": "temporal",
                "scale": {"type": "utc", "domain": [{"year": 2020, "month": 1, "date": 22, "utc": true}, {"year": 2023, "month": 9, "date": 1, "utc": true}]},
                "axis": {"values": [{"year": 2020, "month": 1, "date": 22, "utc": true}, {"year": 2021, "month": 1, "date": 22, "utc": true}, {"year": 2022, "month": 1, "date": 22, "utc": true}, {"year": 2023, "month": 1, "date": 22, "utc": true}],
                         "tickCount": 60, "format": "%Y/%-m/%-d", "labelAngle": 0, "labelFont": "Liberation Sans Narrow", "labelFontSize": 12, "offset": -18, "labelPadding": 2, "labelOverlap": false}},
          "y": {"field": "v", "type": "quantitative", "scale": {"domain": [-100000, 433333], "nice": false},
                "axis": {"values": [-100000, 0, 100000, 200000, 300000], "tickCount": 60, "format": "d", "labelFont": "Liberation Sans Narrow", "labelFontSize": 11, "labelPadding": 6, "labelOverlap": false}},
          "color": {"datum": "美湾-中国", "type": "nominal", "scale": {"domain": ["美湾-中国", "中东-中国", "西非-中国（WS，右轴）"], "range": ["#5b9bd5", "#a5a5a5", "#ed7d31"]},
                    "legend": {"orient": "none", "legendX": 17, "legendY": 176, "direction": "horizontal", "symbolType": "M-1,-0.18H1V0.18H-1Z", "symbolSize": 484, "symbolStrokeWidth": 0, "labelFont": "Liberation Sans Narrow, Noto Sans CJK SC", "labelFontSize": 11, "columnPadding": 14, "labelOffset": 3}}
         }},
        {"data": {"name": "zd"}, "mark": {"type": "area"},
         "encoding": {"x": {"field": "d", "type": "temporal"}, "y": {"field": "v", "type": "quantitative"}, "color": {"datum": "中东-中国", "type": "nominal"}}}
      ]},
      {"data": {"name": "xf"}, "mark": {"type": "area"},
       "encoding": {"x": {"field": "d", "type": "temporal"},
        "y": {"field": "v", "type": "quantitative", "scale": {"domain": [-100, 700], "nice": false},
              "axis": {"orient": "right", "values": [-100, 100, 300, 500], "tickCount": 60, "format": "d", "labelFont": "Liberation Sans Narrow", "labelFontSize": 11, "labelPadding": 8, "labelOverlap": false}},
        "color": {"datum": "西非-中国（WS，右轴）", "type": "nominal"}}}
     ],
     "resolve": {"scale": {"y": "independent"}}},
    {"width": 383, "height": 158,
     "title": {"text": "图6：原油轮三大船型TCE（美元/天）", "offset": 43, "dx": -7},
     "layer": [
      {"data": {"name": "vl"}, "mark": {"type": "line", "strokeWidth": 3},
       "encoding": {
        "x": {"field": "d", "type": "temporal",
              "scale": {"type": "utc", "domain": [{"year": 2020, "month": 1, "date": 22, "utc": true}, {"year": 2023, "month": 9, "date": 1, "utc": true}]},
              "axis": {"values": [{"year": 2020, "month": 1, "date": 22, "utc": true}, {"year": 2021, "month": 1, "date": 22, "utc": true}, {"year": 2022, "month": 1, "date": 22, "utc": true}, {"year": 2023, "month": 1, "date": 22, "utc": true}],
                       "tickCount": 60, "format": "%Y/%-m/%-d", "labelAngle": 0, "labelFont": "DejaVu Sans", "labelFontSize": 11.5, "offset": -20, "labelPadding": 2, "labelOverlap": false}},
        "y": {"field": "v", "type": "quantitative", "scale": {"domain": [-50000, 211000], "nice": false},
              "axis": {"values": [-50000, 0, 50000, 100000, 150000, 200000], "tickCount": 60, "format": "d", "labelFont": "DejaVu Sans", "labelFontSize": 11, "labelPadding": 6, "labelOverlap": false}},
        "color": {"datum": "VLCC-TCE", "type": "nominal", "scale": {"domain": ["VLCC-TCE", "苏伊士-TCE", "阿芙拉-TCE"], "range": ["#5b9bd5", "#ed7d31", "#a5a5a5"]},
                  "legend": {"orient": "none", "legendX": 5, "legendY": 171, "direction": "horizontal", "symbolType": "M-1,-0.12H1V0.12H-1Z", "symbolSize": 1024, "symbolStrokeWidth": 0, "labelFont": "DejaVu Sans, Noto Sans CJK SC", "labelFontSize": 11, "columnPadding": 20, "labelOffset": 3}}
       }},
      {"data": {"name": "sz"}, "mark": {"type": "area"},
       "encoding": {"x": {"field": "d", "type": "temporal"}, "y": {"field": "v", "type": "quantitative"}, "color": {"datum": "苏伊士-TCE", "type": "nominal"}}},
      {"data": {"name": "af"}, "mark": {"type": "area"},
       "encoding": {"x": {"field": "d", "type": "temporal"}, "y": {"field": "v", "type": "quantitative"}, "color": {"datum": "阿芙拉-TCE", "type": "nominal"}}}
     ]}
  ], "spacing": 11, "resolve": {"scale": {"color": "independent"}, "legend": {"color": "independent"}}},
  {"width": 980, "height": 29, "data": {"values": [{"p": 0}]}, "mark": {"type": "rule", "color": "black", "strokeWidth": 2},
   "encoding": {"y": {"field": "p", "type": "quantitative", "scale": {"domain": [0, 1]}, "axis": null}},
   "title": {"text": "数据来源：银河期货、Clarksons", "orient": "bottom", "dx": 5, "offset": 24, "color": "#333333", "fontWeight": "normal", "fontSize": 16}}
]
}
